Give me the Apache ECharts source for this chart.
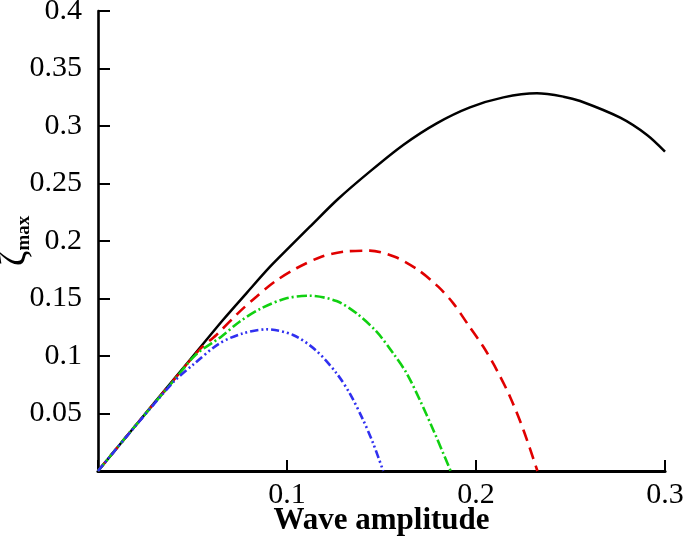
<!DOCTYPE html>
<html>
<head>
<meta charset="utf-8">
<script src="https://cdn.jsdelivr.net/npm/echarts@6/dist/echarts.min.js"></script>
<style>
html,body{margin:0;padding:0;background:#fff;}
#chart{width:685px;height:537px;}
</style>
</head>
<body>
<div id="chart"></div>
<script>
// ---- data ----
var xTicks = [0.1, 0.2, 0.3];
var yTicks = [0.05, 0.1, 0.15, 0.2, 0.25, 0.3, 0.35, 0.4];

var blackX = [0, 0.02, 0.04, 0.0537, 0.0661, 0.0785, 0.0908, 0.1014, 0.112, 0.127, 0.1438, 0.1615, 0.1792, 0.1968, 0.2145, 0.2322, 0.2463, 0.2551, 0.2763, 0.2905, 0.3];
var blackY = [0, 0.0398, 0.0795, 0.1067, 0.1313, 0.1545, 0.1772, 0.1948, 0.2122, 0.2365, 0.2603, 0.2835, 0.3023, 0.3162, 0.3249, 0.3284, 0.3255, 0.3217, 0.3072, 0.2922, 0.2777];

var redX = [0, 0.02, 0.04, 0.0537, 0.0626, 0.074, 0.0838, 0.0935, 0.105, 0.1182, 0.1297, 0.1438, 0.157, 0.1694, 0.18, 0.188, 0.1959, 0.2039, 0.211, 0.218, 0.2251, 0.2325];
var redY = [0, 0.0398, 0.079, 0.1055, 0.1183, 0.1371, 0.1516, 0.1646, 0.1763, 0.1863, 0.1907, 0.1916, 0.1863, 0.1748, 0.1603, 0.1458, 0.127, 0.108, 0.0878, 0.0646, 0.0357, 0];

var greenX = [0, 0.02, 0.04, 0.052, 0.0652, 0.0749, 0.0864, 0.0997, 0.112, 0.1262, 0.1368, 0.1474, 0.1562, 0.1633, 0.1703, 0.1774, 0.1866];
var greenY = [0, 0.0398, 0.0785, 0.1015, 0.1168, 0.1298, 0.1415, 0.1502, 0.1524, 0.1478, 0.1371, 0.1211, 0.1023, 0.085, 0.0617, 0.0357, 0];

var blueX = [0, 0.02, 0.04, 0.05, 0.0643, 0.0767, 0.0891, 0.1032, 0.1156, 0.1262, 0.1332, 0.1403, 0.1456, 0.1509];
var blueY = [0, 0.0395, 0.0775, 0.092, 0.111, 0.1197, 0.1232, 0.1183, 0.1045, 0.085, 0.0675, 0.0443, 0.024, 0];

function pairs(xs, ys) {
  var out = [];
  for (var i = 0; i < xs.length; i++) out.push([xs[i], ys[i]]);
  return out;
}

var FONT = '"Liberation Serif", "Times New Roman", serif';

var chart = echarts.init(document.getElementById('chart'), null, {renderer: 'canvas'});

function mkSeries(name, xs, ys, color, type, width) {
  return {
    name: name,
    type: 'line',
    data: pairs(xs, ys),
    showSymbol: false,
    smooth: 0.3,
    clip: false,
    lineStyle: {color: color, width: width, type: type, cap: 'butt'},
    emphasis: {disabled: true},
    z: 3
  };
}

chart.setOption({
  animation: false,
  backgroundColor: '#ffffff',
  grid: {left: 98, top: 11, width: 567, height: 460, containLabel: false, outerBoundsMode: 'none'},
  xAxis: {
    type: 'value',
    min: 0, max: 0.3, interval: 0.1,
    name: 'Wave amplitude',
    nameLocation: 'middle',
    nameGap: 34,
    nameMoveOverlap: false,
    nameTextStyle: {fontFamily: FONT, fontWeight: 'bold', fontSize: 31, color: '#000'},
    axisLine: {show: true, onZero: false, lineStyle: {color: '#000', width: 3.2}},
    axisTick: {show: true, inside: true, length: 11, lineStyle: {color: '#000', width: 2}},
    axisLabel: {
      fontFamily: FONT, fontSize: 30, color: '#000', margin: 9,
      formatter: function (v) { var r = Math.round(v * 1000) / 1000; return xTicks.indexOf(r) >= 0 ? String(r) : ''; }
    },
    splitLine: {show: false}
  },
  yAxis: {
    type: 'value',
    min: 0, max: 0.4, interval: 0.05,
    name: '{z|ζ}{s|max}',
    nameLocation: 'middle',
    nameRotate: 90,
    nameGap: 64,
    nameMoveOverlap: false,
    nameTextStyle: {
      fontFamily: FONT, color: '#000',
      rich: {
        z: {fontFamily: FONT, fontSize: 38, color: '#000', lineHeight: 38},
        s: {fontFamily: FONT, fontSize: 19, fontWeight: 'bold', color: '#000', lineHeight: 38, verticalAlign: 'bottom', padding: [14, 0, 0, 0]}
      }
    },
    axisLine: {show: true, onZero: false, lineStyle: {color: '#000', width: 2.6}},
    axisTick: {show: true, inside: true, length: 12, lineStyle: {color: '#000', width: 2}},
    axisLabel: {
      fontFamily: FONT, fontSize: 30, color: '#000', margin: 16,
      formatter: function (v) { var r = Math.round(v * 1000) / 1000; return yTicks.indexOf(r) >= 0 ? String(r) : ''; }
    },
    splitLine: {show: false}
  },
  series: [
    mkSeries('black', blackX, blackY, '#000000', 'solid', 2.5),
    mkSeries('red', redX, redY, '#e00000', [12, 7], 2.6),
    mkSeries('green', greenX, greenY, '#10d010', [10, 3, 2, 3], 2.6),
    mkSeries('blue', blueX, blueY, '#3030f0', [8, 3, 2, 3, 2, 3], 2.6)
  ]
});
</script>
</body>
</html>
